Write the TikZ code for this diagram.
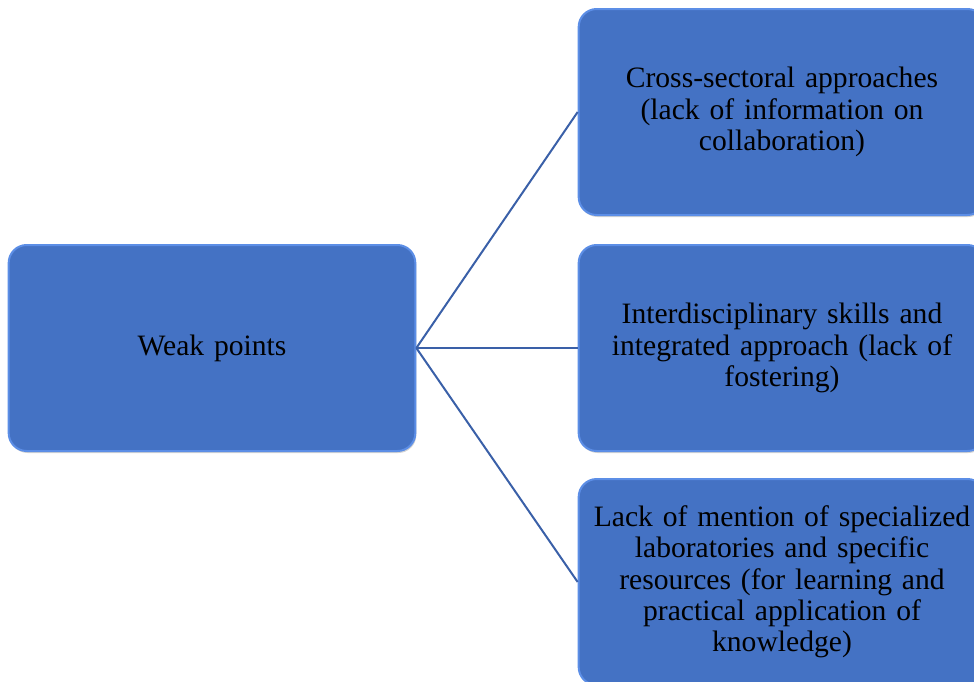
\documentclass[tikz,border=0pt]{standalone}
\usepackage{fontspec}
\setmainfont{Liberation Serif}
\usepackage{tikz}
\usepackage{xcolor}
\usetikzlibrary{positioning,shadows}
\definecolor{boxblue}{RGB}{68,114,196}
\definecolor{boxedge}{RGB}{92,142,230}
\definecolor{linkblue}{RGB}{58,96,168}

\begin{document}
\begin{tikzpicture}[x=1pt,y=-1pt,
	box/.style={draw=boxedge,fill=boxblue,line width=2pt,rounded corners=18pt,
		minimum width=406pt,minimum height=206pt,align=center,text width=400pt,
		font=\fontsize{29.6}{31.3}\selectfont,
		drop shadow={shadow xshift=1pt,shadow yshift=-2pt,opacity=0.35}},
	link/.style={draw=linkblue,line width=2pt}]
		\useasboundingbox (0,0) rectangle (974,681);
		% left box
		\node[box] (weak) at (212,348) {Weak points};
		% right boxes
		\node[box] (cross) at (782,112) {Cross-sectoral approaches\\ (lack of information on\\ collaboration)};
		\node[box] (inter) at (782,348) {Interdisciplinary skills and\\ integrated approach (lack of\\ fostering)};
		\node[box] (labs) at (782,582) {Lack of mention of specialized\\ laboratories and specific\\ resources (for learning and\\ practical application of\\ knowledge)};
		\draw[link] (weak.east) -- (cross.west);
		\draw[link] (weak.east) -- (inter.west);
		\draw[link] (weak.east) -- (labs.west);
\end{tikzpicture}
\end{document}
